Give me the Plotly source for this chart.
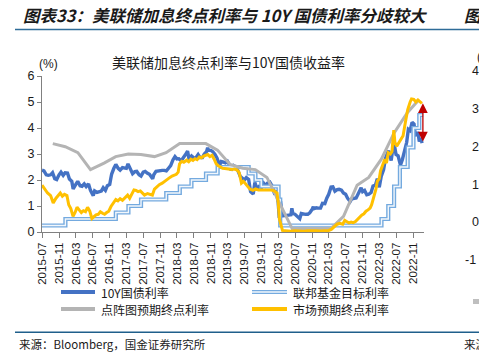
import plotly.graph_objects as go

# ---------------- data ----------------
# 10Y Treasury yield (%)
y10_dates = [
    "2015-07-01","2015-07-15","2015-08-01","2015-08-15","2015-09-01","2015-09-15","2015-10-01","2015-10-15",
    "2015-11-01","2015-11-15","2015-12-01","2015-12-15","2016-01-01","2016-01-15","2016-02-01","2016-02-11",
    "2016-03-01","2016-03-15","2016-04-01","2016-04-15","2016-05-01","2016-05-15","2016-06-01","2016-06-15",
    "2016-07-05","2016-07-15","2016-08-01","2016-08-15","2016-09-01","2016-09-15","2016-10-01","2016-10-15",
    "2016-11-01","2016-11-09","2016-11-15","2016-12-01","2016-12-15","2017-01-01","2017-01-15","2017-02-01",
    "2017-02-15","2017-03-01","2017-03-13","2017-04-01","2017-04-15","2017-05-01","2017-05-15","2017-06-01",
    "2017-06-15","2017-07-01","2017-07-15","2017-08-01","2017-08-15","2017-09-07","2017-09-15","2017-10-01",
    "2017-10-15","2017-11-01","2017-11-15","2017-12-01","2017-12-15","2018-01-01","2018-01-15","2018-02-01",
    "2018-02-15","2018-03-01","2018-03-15","2018-04-01","2018-04-15","2018-05-01","2018-05-17","2018-05-29",
    "2018-06-15","2018-07-01","2018-07-15","2018-08-01","2018-08-15","2018-09-01","2018-09-15","2018-10-01",
    "2018-10-09","2018-10-15","2018-11-01","2018-11-15","2018-12-01","2018-12-15","2019-01-03","2019-01-15",
    "2019-02-01","2019-02-15","2019-03-01","2019-03-15","2019-03-27","2019-04-15","2019-05-01","2019-05-15",
    "2019-06-01","2019-06-15","2019-07-01","2019-07-15","2019-08-01","2019-08-15","2019-09-03","2019-09-15",
    "2019-10-01","2019-10-15","2019-11-01","2019-11-08","2019-12-01","2019-12-15","2020-01-01","2020-01-15",
    "2020-02-01","2020-02-15","2020-03-01","2020-03-09","2020-03-18","2020-04-01","2020-04-15","2020-05-01",
    "2020-05-15","2020-06-01","2020-06-08","2020-06-15","2020-07-01","2020-07-15","2020-08-04","2020-08-15",
    "2020-09-01","2020-09-15","2020-10-01","2020-10-15","2020-11-01","2020-11-10","2020-11-15","2020-12-01",
    "2020-12-15","2021-01-01","2021-01-15","2021-02-01","2021-02-15","2021-03-01","2021-03-18","2021-03-31",
    "2021-04-15","2021-05-01","2021-05-15","2021-06-01","2021-06-15","2021-07-01","2021-07-15","2021-08-03",
    "2021-08-15","2021-09-01","2021-09-15","2021-10-01","2021-10-21","2021-11-01","2021-11-15","2021-12-01",
    "2021-12-15","2022-01-01","2022-01-15","2022-02-01","2022-02-15","2022-03-01","2022-03-15","2022-04-01",
    "2022-04-15","2022-05-06","2022-05-15","2022-05-26","2022-06-14","2022-06-30","2022-07-15","2022-08-01",
    "2022-08-15","2022-09-01","2022-09-15","2022-09-27","2022-10-10","2022-10-24","2022-11-07","2022-11-15",
    "2022-11-25","2022-12-05","2022-12-15","2022-12-25","2023-01-04",
]
y10_vals = [
    2.38,2.35,2.20,2.18,2.20,2.28,2.05,2.02,
    2.20,2.30,2.18,2.28,2.27,2.04,1.95,1.66,
    1.83,1.95,1.78,1.76,1.85,1.75,1.85,1.60,
    1.40,1.58,1.52,1.55,1.57,1.70,1.60,1.78,
    1.83,2.07,2.23,2.45,2.60,2.45,2.38,2.48,
    2.45,2.45,2.62,2.38,2.24,2.32,2.33,2.20,
    2.15,2.30,2.33,2.26,2.22,2.05,2.20,2.33,
    2.35,2.37,2.37,2.37,2.35,2.46,2.55,2.78,
    2.90,2.81,2.82,2.74,2.83,2.97,3.11,2.77,
    2.92,2.85,2.85,2.98,2.86,2.86,3.00,3.09,
    3.24,3.15,3.14,3.09,2.98,2.85,2.56,2.71,
    2.69,2.66,2.72,2.59,2.37,2.55,2.50,2.37,
    2.14,2.08,2.00,2.09,2.02,1.55,1.46,1.90,
    1.65,1.75,1.72,1.94,1.78,1.88,1.92,1.79,
    1.52,1.59,1.15,0.54,1.18,0.62,0.63,0.64,
    0.64,0.66,0.91,0.72,0.68,0.62,0.51,0.71,
    0.68,0.68,0.68,0.74,0.87,0.97,0.90,0.93,
    0.92,0.92,1.10,1.09,1.30,1.45,1.73,1.74,
    1.57,1.63,1.64,1.61,1.50,1.45,1.30,1.17,
    1.28,1.31,1.31,1.48,1.70,1.55,1.60,1.43,
    1.45,1.52,1.77,1.80,2.05,1.72,2.14,2.39,
    2.83,3.13,2.93,2.75,3.48,2.98,2.93,2.57,
    2.79,3.19,3.45,3.95,3.90,4.22,4.15,3.77,
    3.70,3.85,3.48,3.62,3.42,
]

# Fed funds target rate (upper bound, %), step changes
ff_dates = ["2015-07-01","2015-12-17","2016-12-15","2017-03-16","2017-06-15","2017-12-14","2018-03-22",
            "2018-06-14","2018-09-27","2018-12-20","2019-08-01","2019-09-19","2019-10-31","2020-03-04",
            "2020-03-16","2022-03-17","2022-05-05","2022-06-16","2022-07-28","2022-09-22","2022-11-03",
            "2022-12-15","2023-01-12"]
ff_vals = [0.25,0.50,0.75,1.00,1.25,1.50,1.75,2.00,2.25,2.50,2.25,2.00,1.75,1.25,0.25,0.50,1.00,1.75,
           2.50,3.25,4.00,4.50,4.50]

# Dot plot terminal rate (%)
dot_dates = ["2015-09-17","2015-12-16","2016-03-16","2016-06-15","2016-09-21","2016-12-14","2017-03-15",
             "2017-06-14","2017-09-20","2017-12-13","2018-03-21","2018-06-13","2018-09-26","2018-12-19",
             "2019-03-20","2019-06-19","2019-09-18","2019-12-11","2020-06-10","2020-09-16","2020-12-16",
             "2021-03-17","2021-06-16","2021-09-22","2021-12-15","2022-03-16","2022-06-15","2022-09-21",
             "2022-12-14"]
dot_vals = [3.40,3.28,3.05,2.40,2.65,2.90,3.00,2.98,2.90,3.05,3.40,3.40,3.40,3.15,2.60,2.45,2.40,2.10,
            0.13,0.13,0.13,0.13,0.60,1.80,2.10,2.80,3.80,4.60,5.10]

# Market-implied terminal rate (%)
mkt_dates = [
    "2015-07-01","2015-07-20","2015-08-10","2015-09-01","2015-09-20","2015-10-10","2015-10-25","2015-11-10",
    "2015-11-25","2015-12-10","2015-12-28","2016-01-10","2016-01-25","2016-02-10","2016-02-25","2016-03-10",
    "2016-03-25","2016-04-10","2016-04-25","2016-05-10","2016-05-25","2016-06-10","2016-06-25","2016-07-10",
    "2016-07-25","2016-08-10","2016-08-25","2016-09-10","2016-09-25","2016-10-10","2016-10-25","2016-11-10",
    "2016-11-25","2016-12-15","2016-12-30","2017-01-15","2017-02-01","2017-02-15","2017-03-10","2017-03-25",
    "2017-04-10","2017-04-25","2017-05-10","2017-05-25","2017-06-10","2017-06-25","2017-07-10","2017-08-01",
    "2017-08-20","2017-09-05","2017-09-20","2017-10-10","2017-10-25","2017-11-15","2017-12-01","2017-12-20",
    "2018-01-10","2018-01-25","2018-02-10","2018-02-25","2018-03-10","2018-03-20","2018-04-05","2018-04-20",
    "2018-05-10","2018-05-25","2018-06-10","2018-06-25","2018-07-10","2018-07-25","2018-08-10","2018-08-25",
    "2018-09-10","2018-09-25","2018-10-10","2018-10-25","2018-11-10","2018-11-25","2018-12-10","2018-12-25",
    "2019-01-10","2019-01-25","2019-02-10","2019-03-10","2019-04-01","2019-04-20","2019-05-10","2019-05-25",
    "2019-06-10","2019-06-25","2019-07-10","2019-07-25","2019-08-10","2019-09-01","2019-09-20","2019-10-10",
    "2019-11-01","2019-12-01","2020-01-01","2020-01-25","2020-02-10","2020-02-22","2020-03-02","2020-03-10",
    "2020-04-01","2020-05-01","2020-06-01","2020-07-01","2020-08-01","2020-09-01","2020-10-01","2020-11-01",
    "2020-12-01","2021-01-01","2021-02-01","2021-03-01","2021-03-20","2021-04-10","2021-05-01","2021-05-20",
    "2021-06-10","2021-06-25","2021-07-10","2021-07-25","2021-08-10","2021-08-25","2021-09-10","2021-09-25",
    "2021-10-10","2021-10-25","2021-11-10","2021-11-25","2021-12-10","2021-12-25","2022-01-05","2022-01-20",
    "2022-02-05","2022-02-15","2022-03-01","2022-03-10","2022-03-25","2022-04-10","2022-04-22","2022-05-05",
    "2022-05-20","2022-06-01","2022-06-14","2022-06-22","2022-07-05","2022-07-20","2022-08-05","2022-08-20",
    "2022-09-05","2022-09-22","2022-10-10","2022-10-20","2022-11-05","2022-11-20","2022-12-05","2022-12-20",
    "2023-01-03",
]
mkt_vals = [
    1.80,1.65,1.50,1.40,1.12,1.30,1.42,1.50,
    1.38,1.45,1.40,1.05,0.90,0.60,0.75,0.95,
    0.85,0.75,0.82,0.78,0.95,0.80,0.52,0.58,
    0.66,0.68,0.78,0.72,0.68,0.75,0.80,0.98,
    1.12,1.25,1.20,1.28,1.22,1.30,1.42,1.30,
    1.45,1.62,1.60,1.55,1.58,1.50,1.42,1.48,
    1.45,1.42,1.65,1.75,1.82,1.88,1.95,2.02,
    2.10,2.15,2.18,2.22,2.30,2.62,2.72,2.68,
    2.76,2.70,2.80,2.75,2.82,2.78,2.88,2.85,
    2.92,2.95,2.98,2.90,2.95,2.80,2.62,2.55,
    2.50,2.45,2.44,2.42,2.40,2.42,2.38,2.28,
    1.88,1.95,1.85,1.75,1.65,1.60,1.66,1.62,
    1.63,1.62,1.62,1.60,1.55,1.50,1.10,0.50,
    0.06,0.04,0.03,0.05,0.04,0.03,0.05,0.06,
    0.05,0.04,0.05,0.06,0.10,0.20,0.30,0.33,
    0.30,0.45,0.40,0.35,0.38,0.36,0.40,0.48,
    0.58,0.65,0.70,0.80,0.85,0.92,1.05,1.30,
    1.65,1.95,2.05,2.35,2.55,2.80,2.65,3.05,
    3.00,3.10,3.92,3.45,3.30,3.45,3.55,3.70,
    4.20,4.70,5.00,5.12,5.10,5.00,5.08,5.02,
    4.95,
]

x_ticks = ["2015-07-01","2015-11-01","2016-03-01","2016-07-01","2016-11-01","2017-03-01","2017-07-01",
           "2017-11-01","2018-03-01","2018-07-01","2018-11-01","2019-03-01","2019-07-01","2019-11-01",
           "2020-03-01","2020-07-01","2020-11-01","2021-03-01","2021-07-01","2021-11-01","2022-03-01",
           "2022-07-01","2022-11-01"]
x_tick_labels = [d[:7] for d in x_ticks]
y_ticks = [0, 1, 2, 3, 4, 5, 6]

arrow_date = "2023-01-10"

# ---------------- layout helpers ----------------
W, H = 479, 356
L, R, T, B = 42, 424, 76, 232
def px(x):
    return (x - L) / (R - L)
def py(y):
    return (B - y) / (B - T)

CJK = "Noto Sans CJK SC"
LAT = "Liberation Sans"

BLUE = "#4472C4"
FF_OUT = "#74AADF"
GRAY = "#B4B4B4"
GOLD = "#FFC000"

fig = go.Figure()
fig.add_trace(go.Scatter(x=y10_dates, y=y10_vals, mode="lines", line=dict(color=BLUE, width=3.4),
                         showlegend=False, hoverinfo="skip"))
fig.add_trace(go.Scatter(x=ff_dates, y=ff_vals, mode="lines", line=dict(color=FF_OUT, width=4.2, shape="hv"),
                         showlegend=False, hoverinfo="skip"))
fig.add_trace(go.Scatter(x=ff_dates, y=ff_vals, mode="lines", line=dict(color="#F2F7FC", width=1.4, shape="hv"),
                         showlegend=False, hoverinfo="skip"))
fig.add_trace(go.Scatter(x=dot_dates, y=dot_vals, mode="lines", line=dict(color=GRAY, width=3),
                         showlegend=False, hoverinfo="skip"))
fig.add_trace(go.Scatter(x=mkt_dates, y=mkt_vals, mode="lines", line=dict(color=GOLD, width=3),
                         showlegend=False, hoverinfo="skip"))

shapes = []
annotations = []

# double-headed red arrow between market terminal rate and 10Y yield at the end
annotations.append(dict(x=arrow_date, y=mkt_vals[-1], ax=arrow_date, ay=y10_vals[-1],
                        xref="x", yref="y", axref="x", ayref="y", text="", showarrow=True,
                        arrowhead=2, startarrowhead=2, arrowside="end+start", arrowsize=1.5,
                        startarrowsize=1.5, arrowwidth=1.3, arrowcolor="#C00000", standoff=0, startstandoff=0))

# header / footer rules
shapes.append(dict(type="line", xref="paper", yref="paper", x0=px(15), x1=px(479), y0=py(29.5), y1=py(29.5),
                   line=dict(color="#2E6C98", width=1.6)))
shapes.append(dict(type="line", xref="paper", yref="paper", x0=px(15), x1=px(479), y0=py(332.3), y1=py(332.3),
                   line=dict(color="#1F5F8B", width=1.6)))

def text(x, y, s, size, font=CJK, color="#1a1a1a", xanchor="left"):
    annotations.append(dict(x=px(x), y=py(y), xref="paper", yref="paper", text=s, showarrow=False,
                            xanchor=xanchor, yanchor="middle", font=dict(family=font, size=size, color=color)))

text(21, 15, "<b><i>图表33：美联储加息终点利率与 10Y 国债利率分歧较大</i></b>", 16.5)
text(462, 15, "<b><i>图</i></b>", 16.5)
text(228, 62, "美联储加息终点利率与10Y国债收益率", 14, xanchor="center")
text(48, 64, "(%)", 12, font=LAT, xanchor="center")
text(17, 344, "来源：Bloomberg，国金证券研究所", 11.5)
text(462, 344, "来源", 11.5)

# fragments of the neighbouring chart on the right edge
for lab, yy in [("4", 71), ("3", 109), ("2", 147), ("1", 184.5), ("0", 222)]:
    text(470, yy, lab, 12.5, font=LAT)
text(463, 260, "-1", 12.5, font=LAT)
text(475, 57, "(", 12, font=LAT)
shapes.append(dict(type="rect", xref="paper", yref="paper", x0=px(473), x1=px(480), y0=py(304), y1=py(299),
                   fillcolor="#BFBFBF", line=dict(width=0)))

# manual legend (2 x 2)
legend_items = [
    ("10Y国债利率", 61, 95, 99, 292, "solid_blue"),
    ("联邦基金目标利率", 252, 287, 291, 292, "double"),
    ("点阵图预期终点利率", 61, 95, 99, 309, "gray"),
    ("市场预期终点利率", 252, 287, 291, 309, "gold"),
]
for lab, xa, xb, xt, yy, style in legend_items:
    if style == "double":
        shapes.append(dict(type="line", xref="paper", yref="paper", x0=px(xa), x1=px(xb), y0=py(yy), y1=py(yy),
                           line=dict(color=FF_OUT, width=4.2)))
        shapes.append(dict(type="line", xref="paper", yref="paper", x0=px(xa), x1=px(xb), y0=py(yy), y1=py(yy),
                           line=dict(color="#F2F7FC", width=1.4)))
    else:
        col = {"solid_blue": BLUE, "gray": GRAY, "gold": GOLD}[style]
        shapes.append(dict(type="line", xref="paper", yref="paper", x0=px(xa), x1=px(xb), y0=py(yy), y1=py(yy),
                           line=dict(color=col, width=4)))
    text(xt, yy, lab, 12)

fig.update_layout(
    width=W, height=H,
    margin=dict(l=L, r=W - R, t=T, b=H - B, pad=0),
    paper_bgcolor="white", plot_bgcolor="white",
    showlegend=False,
    shapes=shapes, annotations=annotations,
    xaxis=dict(type="date", range=["2015-07-01", "2023-01-18"], tickvals=x_ticks, ticktext=x_tick_labels,
               tickangle=-90, showgrid=False, zeroline=False, showline=True, linecolor="#808080", linewidth=1,
               ticks="outside", ticklen=5, tickcolor="#808080",
               tickfont=dict(family=LAT, size=11.5, color="#1a1a1a")),
    yaxis=dict(range=[0, 6], tickvals=y_ticks, showgrid=False, zeroline=False, showline=True,
               linecolor="#808080", linewidth=1, ticks="outside", ticklen=4, tickcolor="#808080",
               tickfont=dict(family=LAT, size=12.5, color="#1a1a1a")),
)

# remove the page's default 8px body margin so the figure sits at the window origin;
# hide the interactive mode bar so it cannot cover the header
fig.write_html("out.html",
               config={"displayModeBar": False, "staticPlot": True},
               post_script="document.body.style.margin='0';document.body.style.overflow='hidden';")
